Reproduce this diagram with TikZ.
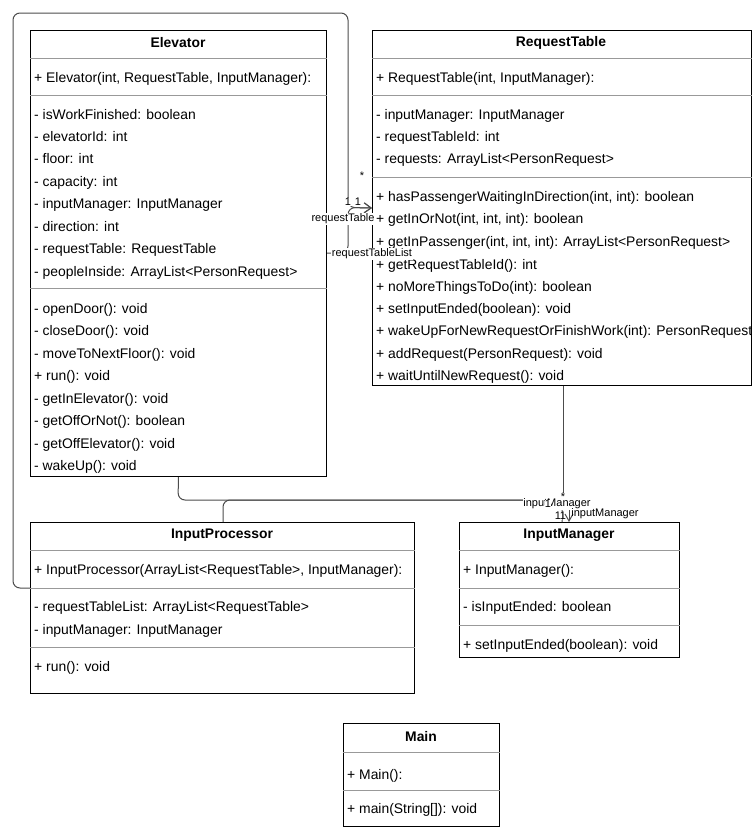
\documentclass[tikz,border=0pt]{standalone}
\usepackage{fontspec}
\setmainfont{Liberation Sans}
\usepackage{tikz}
\usetikzlibrary{calc}
\usetikzlibrary{arrows.meta}
\tikzstyle{classbox} = [draw, rectangle, line width=1pt, anchor=north west, inner sep=0pt]
\tikzstyle{classname} = [font=\fontsize{13.9}{15}\selectfont\bfseries, inner sep=0pt, yshift=-1pt]
\tikzstyle{member} = [anchor=west, inner sep=0pt, text height=10pt, text depth=3pt, font=\fontsize{13.9}{15}\selectfont, yshift=-1.5pt]
\tikzstyle{divider} = [draw=black!40, line width=1pt]
\tikzstyle{assoc} = [draw=black!70, line width=1pt, rounded corners=7pt]
\tikzstyle{edgelabel} = [fill=white, inner sep=0.6pt, font=\fontsize{11}{12}\selectfont]

\begin{document}
\begin{tikzpicture}[x=1pt, y=-1pt]
\useasboundingbox (0,0) rectangle (752,827);

% Elevator
\node[classbox, minimum width=296pt, minimum height=446pt] (elevator) at (30,30) {};
\node[classname] (el_name) at ($(elevator.north west)+(148,12)$) {Elevator};
\draw[divider] ($(elevator.north west)+(0,28)$) -- ($(elevator.north east)+(0,28)$);
\draw[divider] ($(elevator.north west)+(0,65)$) -- ($(elevator.north east)+(0,65)$);
\draw[divider] ($(elevator.north west)+(0,258)$) -- ($(elevator.north east)+(0,258)$);
\node[member] (el_ctor) at ($(elevator.north west)+(4,47)$) {+ Elevator(int, RequestTable, InputManager):};
\node[member] (el_a1) at ($(elevator.north west)+(4,84)$) {- isWorkFinished: boolean};
\node[member] (el_a2) at ($(elevator.north west)+(4,106)$) {- elevatorId: int};
\node[member] (el_a3) at ($(elevator.north west)+(4,128)$) {- floor: int};
\node[member] (el_a4) at ($(elevator.north west)+(4,151)$) {- capacity: int};
\node[member] (el_a5) at ($(elevator.north west)+(4,173)$) {- inputManager: InputManager};
\node[member] (el_a6) at ($(elevator.north west)+(4,196)$) {- direction: int};
\node[member] (el_a7) at ($(elevator.north west)+(4,218)$) {- requestTable: RequestTable};
\node[member] (el_a8) at ($(elevator.north west)+(4,241)$) {- peopleInside: ArrayList<PersonRequest>};
\node[member] (el_m1) at ($(elevator.north west)+(4,278)$) {- openDoor(): void};
\node[member] (el_m2) at ($(elevator.north west)+(4,300)$) {- closeDoor(): void};
\node[member] (el_m3) at ($(elevator.north west)+(4,323)$) {- moveToNextFloor(): void};
\node[member] (el_m4) at ($(elevator.north west)+(4,345)$) {+ run(): void};
\node[member] (el_m5) at ($(elevator.north west)+(4,368)$) {- getInElevator(): void};
\node[member] (el_m6) at ($(elevator.north west)+(4,390)$) {- getOffOrNot(): boolean};
\node[member] (el_m7) at ($(elevator.north west)+(4,413)$) {- getOffElevator(): void};
\node[member] (el_m8) at ($(elevator.north west)+(4,435)$) {- wakeUp(): void};

% RequestTable
\node[classbox, minimum width=379pt, minimum height=355pt] (reqtable) at (372,30) {};
\node[classname] (rt_name) at ($(reqtable.north west)+(189,12)$) {RequestTable};
\draw[divider] ($(reqtable.north west)+(0,28)$) -- ($(reqtable.north east)+(0,28)$);
\draw[divider] ($(reqtable.north west)+(0,65)$) -- ($(reqtable.north east)+(0,65)$);
\draw[divider] ($(reqtable.north west)+(0,147)$) -- ($(reqtable.north east)+(0,147)$);
\node[member] (rt_ctor) at ($(reqtable.north west)+(4,47)$) {+ RequestTable(int, InputManager):};
\node[member] (rt_a1) at ($(reqtable.north west)+(4,84)$) {- inputManager: InputManager};
\node[member] (rt_a2) at ($(reqtable.north west)+(4,106)$) {- requestTableId: int};
\node[member] (rt_a3) at ($(reqtable.north west)+(4,128)$) {- requests: ArrayList<PersonRequest>};
\node[member] (rt_m1) at ($(reqtable.north west)+(4,166)$) {+ hasPassengerWaitingInDirection(int, int): boolean};
\node[member] (rt_m2) at ($(reqtable.north west)+(4,188)$) {+ getInOrNot(int, int, int): boolean};
\node[member] (rt_m3) at ($(reqtable.north west)+(4,211)$) {+ getInPassenger(int, int, int): ArrayList<PersonRequest>};
\node[member] (rt_m4) at ($(reqtable.north west)+(4,234)$) {+ getRequestTableId(): int};
\node[member] (rt_m5) at ($(reqtable.north west)+(4,256)$) {+ noMoreThingsToDo(int): boolean};
\node[member] (rt_m6) at ($(reqtable.north west)+(4,278)$) {+ setInputEnded(boolean): void};
\node[member] (rt_m7) at ($(reqtable.north west)+(4,300)$) {+ wakeUpForNewRequestOrFinishWork(int): PersonRequest};
\node[member] (rt_m8) at ($(reqtable.north west)+(4,323)$) {+ addRequest(PersonRequest): void};
\node[member] (rt_m9) at ($(reqtable.north west)+(4,345)$) {+ waitUntilNewRequest(): void};

% InputProcessor
\node[classbox, minimum width=384pt, minimum height=171pt] (inputproc) at (30,522) {};
\node[classname] (ip_name) at ($(inputproc.north west)+(192,12)$) {InputProcessor};
\draw[divider] ($(inputproc.north west)+(0,28)$) -- ($(inputproc.north east)+(0,28)$);
\draw[divider] ($(inputproc.north west)+(0,66)$) -- ($(inputproc.north east)+(0,66)$);
\draw[divider] ($(inputproc.north west)+(0,125)$) -- ($(inputproc.north east)+(0,125)$);
\node[member] (ip_ctor) at ($(inputproc.north west)+(4,47)$) {+ InputProcessor(ArrayList<RequestTable>, InputManager):};
\node[member] (ip_a1) at ($(inputproc.north west)+(4,84)$) {- requestTableList: ArrayList<RequestTable>};
\node[member] (ip_a2) at ($(inputproc.north west)+(4,107)$) {- inputManager: InputManager};
\node[member] (ip_m1) at ($(inputproc.north west)+(4,144)$) {+ run(): void};

% InputManager
\node[classbox, minimum width=220pt, minimum height=135pt] (inputmgr) at (459,522) {};
\node[classname] (im_name) at ($(inputmgr.north west)+(110,12)$) {InputManager};
\draw[divider] ($(inputmgr.north west)+(0,28)$) -- ($(inputmgr.north east)+(0,28)$);
\draw[divider] ($(inputmgr.north west)+(0,66)$) -- ($(inputmgr.north east)+(0,66)$);
\draw[divider] ($(inputmgr.north west)+(0,103)$) -- ($(inputmgr.north east)+(0,103)$);
\node[member] (im_ctor) at ($(inputmgr.north west)+(4,47)$) {+ InputManager():};
\node[member] (im_a1) at ($(inputmgr.north west)+(4,84)$) {- isInputEnded: boolean};
\node[member] (im_m1) at ($(inputmgr.north west)+(4,122)$) {+ setInputEnded(boolean): void};

% Main
\node[classbox, minimum width=156pt, minimum height=103pt] (mainclass) at (343,723) {};
\node[classname] (mn_name) at ($(mainclass.north west)+(78,13)$) {Main};
\draw[divider] ($(mainclass.north west)+(0,29)$) -- ($(mainclass.north east)+(0,29)$);
\draw[divider] ($(mainclass.north west)+(0,67)$) -- ($(mainclass.north east)+(0,67)$);
\node[member] (mn_ctor) at ($(mainclass.north west)+(4,51)$) {+ Main():};
\node[member] (mn_m1) at ($(mainclass.north west)+(4,85)$) {+ main(String[]): void};

% associations
\draw[assoc, -{Straight Barb[length=7pt, width=10pt]}] ($(inputproc.north west)+(0,66)$) -- (13,588) -- (13,13) -- (348,13) -- (348,207.5) -- (reqtable.west);
\draw[assoc, -{Straight Barb[length=7pt, width=10pt]}] ($(elevator.north east)+(0,223)$) -- (348,253) -- (348,207.5) -- (reqtable.west);
\draw[assoc] (elevator.south) -- (178,500) -- (562,500) -- ($(inputmgr.north west)+(103,0)$);
\draw[assoc] ($(inputproc.north west)+(193,0)$) -- (223,500) -- (562,500);
\draw[assoc, rounded corners=0pt, -{Straight Barb[length=7pt, width=8pt]}] ($(reqtable.south west)+(191,0)$) -- (563,508) -- (569,508) -- ($(inputmgr.north west)+(110,0)$);

% labels
\node[edgelabel] (lbl_star1) at (362,176) {*};
\node[edgelabel] (lbl_one1) at (348,202) {1};
\node[edgelabel] (lbl_one2) at (358,202) {1};
\node[edgelabel] (lbl_rt) at (343,219) {requestTable};
\node[edgelabel] (lbl_rtl) at (372,254) {requestTableList};
\node[edgelabel] (lbl_star2) at (563,497) {*};
\node[edgelabel] (lbl_im1) at (557,504) {inputManager};
\node[edgelabel, inner sep=0pt] (lbl_one3) at (548,504) {1};
\node[edgelabel] (lbl_one4) at (558,516) {1};
\node[edgelabel, fill=none] (lbl_one5) at (563,516) {1};
\node[edgelabel, fill=none] (lbl_im2) at (605,514) {inputManager};
\end{tikzpicture}
\end{document}
